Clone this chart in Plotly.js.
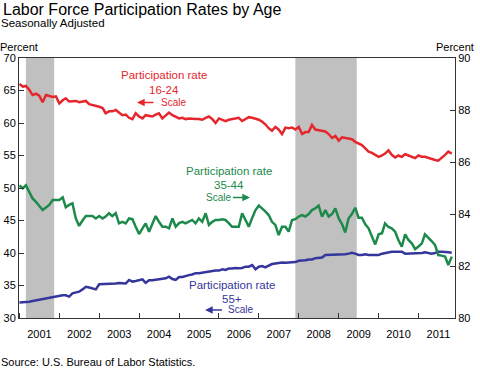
<!DOCTYPE html>
<html>
<head>
<meta charset="utf-8">
<script src="https://cdn.plot.ly/plotly-3.0.1.min.js"></script>
<style>html,body{margin:0;padding:0;background:#fff;}#chart{width:480px;height:374px;}</style>
</head>
<body>
<div id="chart"></div>
<script>
// Monthly data, Jan 2001 – Nov 2011
var startYear = 2001;
var rate16_24 = [66.0,65.6,65.7,65.1,64.3,64.5,64.2,63.2,64.3,64.2,64.0,64.1,
63.0,63.5,63.8,63.3,63.4,63.4,63.2,63.3,63.4,62.9,62.8,62.6,
62.5,62.3,61.5,61.8,61.8,62.0,61.6,61.2,61.3,60.8,60.6,61.5,
61.0,60.7,61.2,61.1,61.0,61.3,61.5,60.7,61.1,61.6,61.2,61.0,
60.7,60.8,60.6,60.7,60.6,60.6,60.6,60.5,60.8,61.0,60.6,60.0,
60.7,60.5,60.3,60.5,60.6,60.6,60.8,60.3,60.6,60.9,60.8,60.7,
60.5,60.2,59.8,59.2,58.8,59.4,59.0,58.3,59.3,59.2,59.3,59.0,
59.4,58.3,58.6,58.6,59.7,59.0,58.9,58.8,58.7,58.3,57.7,58.0,
57.3,57.8,57.7,57.7,57.5,57.1,56.9,56.6,56.1,55.6,55.4,55.1,
54.8,55.0,55.3,55.8,55.1,54.7,55.0,54.8,55.2,55.0,54.8,54.6,
55.0,54.8,54.8,54.6,54.5,54.3,54.2,54.6,55.1,55.6,55.3];
var rate35_44 = [85.10,84.99,85.10,84.86,84.60,84.47,84.30,84.15,84.25,84.35,84.54,84.54,
84.54,84.64,84.26,84.35,84.41,83.83,83.54,83.75,83.92,83.92,83.92,83.83,
83.92,83.83,83.90,84.03,83.92,84.03,83.64,83.70,83.64,83.83,83.80,83.51,
83.23,83.45,83.64,83.32,83.60,83.92,83.70,83.51,83.51,83.45,83.83,83.51,
83.65,83.70,83.64,83.70,83.77,83.64,83.83,83.70,84.03,83.58,83.70,83.77,
83.77,83.80,83.77,83.65,83.51,83.51,83.51,84.03,83.77,83.51,83.85,84.15,
84.32,84.22,84.10,83.96,83.70,83.58,83.19,83.51,83.51,83.32,83.77,83.80,
83.90,83.96,83.90,84.00,84.15,84.22,84.32,83.90,84.15,83.90,84.00,84.22,
83.83,83.60,83.29,83.83,84.00,84.24,83.86,83.86,83.60,83.45,83.10,82.83,
83.22,83.26,83.64,83.50,83.45,83.32,83.00,82.74,83.22,83.00,82.87,82.65,
82.75,82.87,83.22,83.10,82.96,82.81,82.42,82.40,82.36,82.04,82.36];
var rate55plus = [32.4,32.4,32.5,32.5,32.6,32.7,32.9,32.9,33.0,33.2,33.3,33.4,
33.4,33.5,33.5,33.3,33.8,33.9,34.05,34.4,34.8,34.7,34.5,34.4,
35.2,35.2,35.2,35.2,35.3,35.3,35.4,35.4,35.3,35.85,35.6,35.7,
35.85,35.95,35.4,35.8,35.8,35.9,36.0,36.0,36.1,36.35,36.0,35.85,
36.3,36.3,36.5,36.6,36.7,36.9,36.9,37.0,37.1,37.2,37.2,37.3,
37.3,37.5,37.4,37.6,37.6,37.7,37.65,37.7,37.9,37.9,38.15,37.5,
37.9,38.0,37.8,38.1,38.3,38.4,38.5,38.55,38.5,38.55,38.6,38.6,
38.8,38.8,38.9,39.0,39.0,39.2,39.3,39.3,39.7,39.7,39.7,39.7,
39.7,39.8,39.8,39.9,40.05,39.9,39.7,39.7,39.8,39.7,39.7,39.8,
39.7,39.9,40.0,40.1,40.2,40.2,40.2,40.2,39.9,39.9,39.9,39.9,
40.0,40.0,40.1,40.0,39.9,40.0,40.2,40.2,40.1,40.1,40.05];
var recessions = [["2001-03-01","2001-11-15"],["2007-12-01","2009-06-15"]];
var yearTicks = ["2001","2002","2003","2004","2005","2006","2007","2008","2009","2010","2011"];

var months = [];
for (var i = 0; i < rate16_24.length; i++) {
  var y = startYear + Math.floor(i / 12), m = (i % 12) + 1;
  months.push(y + "-" + (m < 10 ? "0" + m : m) + "-01");
}

var RED = "#e5262d", GREEN = "#1d8a4b", BLUE = "#35369c";
var FONT = "Liberation Sans, Arial, sans-serif";

var traces = [
  {x: months, y: rate16_24, type: "scatter", mode: "lines", line: {color: RED, width: 2.5}, yaxis: "y"},
  {x: months, y: rate35_44, type: "scatter", mode: "lines", line: {color: GREEN, width: 2.5}, yaxis: "y2"},
  {x: months, y: rate55plus, type: "scatter", mode: "lines", line: {color: BLUE, width: 2.5}, yaxis: "y"}
];

var shapes = recessions.map(function (r) {
  return {type: "rect", xref: "x", yref: "paper", x0: r[0], x1: r[1], y0: 0, y1: 1,
          fillcolor: "#c0c0c0", line: {width: 0}, layer: "below"};
});

function txt(text, x, y, color, size, xanchor) {
  return {text: text, xref: "paper", yref: "paper", x: x, y: y, showarrow: false,
          xanchor: xanchor || "center", yanchor: "middle", borderpad: 0,
          font: {family: FONT, size: size, color: color}};
}
function arrow(x, y, ax, color) {
  return {text: "", xref: "paper", yref: "paper", x: x, y: y, ax: ax, ay: 0,
          showarrow: true, arrowhead: 2, arrowsize: 1.1, arrowwidth: 1.4,
          arrowcolor: color, standoff: 0, startstandoff: 0};
}

var annotations = [
  txt("Seasonally Adjusted", -0.0436, 1.1346, "#000", 11.5, "left"),
  txt("Percent", -0.046, 1.042, "#000", 11, "left"),
  txt("Percent", 1.046, 1.042, "#000", 11, "right"),
  txt("Source: U.S. Bureau of Labor Statistics.", -0.044, -0.168, "#000", 11, "left"),
  txt("Participation rate", 0.3326, 0.9346, RED, 11.5),
  txt("16-24", 0.3326, 0.8788, RED, 11.5),
  txt("Scale", 0.3234, 0.8288, RED, 10, "left"),
  arrow(0.2706, 0.8288, 18, RED),
  txt("Participation rate", 0.4817, 0.5665, GREEN, 11.5),
  txt("35-44", 0.4817, 0.5115, GREEN, 11.5),
  txt("Scale", 0.4266, 0.4635, GREEN, 10, "left"),
  arrow(0.5298, 0.4635, -18.5, GREEN),
  txt("Participation rate", 0.4885, 0.1269, BLUE, 11.5),
  txt("55+", 0.4885, 0.075, BLUE, 11.5),
  txt("Scale", 0.4771, 0.0308, BLUE, 10, "left"),
  arrow(0.4266, 0.0308, 18.5, BLUE)
];

var axisCommon = {showgrid: false, zeroline: false, showline: true, linecolor: "#333", linewidth: 1,
                  ticks: "inside", ticklen: 5, tickcolor: "#333", tickwidth: 1,
                  tickfont: {family: FONT, size: 11, color: "#000"}};

var layout = {
  width: 480, height: 374,
  margin: {l: 19, r: 25, t: 58, b: 56, pad: 0},
  paper_bgcolor: "#fff", plot_bgcolor: "#fff",
  showlegend: false,
  title: {text: "Labor Force Participation Rates by Age", xref: "container", yref: "container",
          x: 3 / 480, xanchor: "left", y: 1 - 9 / 374, yanchor: "middle",
          font: {family: FONT, size: 16, color: "#000"}},
  xaxis: Object.assign({}, axisCommon, {type: "date", range: ["2000-12-28", "2011-12-01"],
          tick0: "2001-01-01", dtick: "M12", tickformat: "%Y", ticklabelmode: "period",
          ticklabelstandoff: 6, mirror: true}),
  yaxis: Object.assign({}, axisCommon, {range: [30, 70], dtick: 5, tick0: 30}),
  yaxis2: Object.assign({}, axisCommon, {range: [80, 90], dtick: 2, tick0: 80,
          overlaying: "y", side: "right"}),
  shapes: shapes,
  annotations: annotations
};

Plotly.newPlot("chart", traces, layout, {staticPlot: true, displayModeBar: false});
</script>
</body>
</html>
